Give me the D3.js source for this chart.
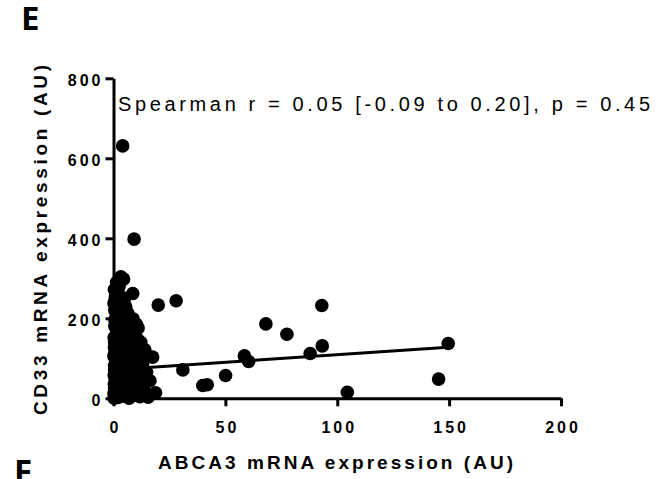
<!DOCTYPE html>
<html>
<head>
<meta charset="utf-8">
<script src="https://cdn.jsdelivr.net/npm/d3@7"></script>
<style>
  body { margin: 0; background: #fff; }
  svg { display: block; }
</style>
</head>
<body>
<svg id="chart" width="670" height="479"></svg>
<script>
// ABCA3 (x) vs CD33 (y) mRNA expression
const abca3 = [
  4.1, 9.2, 20, 28, 93.1, 68.1, 77.5, 93.3, 87.9, 149.6, 145.3, 104.5, 58.5, 60.4, 50.1, 39.9, 41.9, 31,
  3.3, 4.5, 1.4, 2.5, 8.6, 0.8, 3.0, 5.5, 2.0, 1.2, 4.0, 6.5, 8.8, 7.5, 11.0, 10.2, 0.6, 2.5, 5.0, 3.8,
  6.0, 1.5, 9.0, 10.5, 4.2, 2.2, 7.0, 0.5, 5.5, 3.0, 8.0, 1.0, 14.0, 12.0, 6.5, 17.5, 4.5, 2.0, 9.5, 0.8,
  6.0, 11.5, 3.5, 8.5, 13.0, 1.5, 5.0, 10.0, 0.5, 7.0, 3.0, 12.5, 2.0, 9.0, 5.5, 16.3, 14.5, 0.8, 4.0, 11.0,
  7.5, 2.5, 13.5, 0.5, 6.0, 9.5, 18.8, 13.3, 3.5, 1.0, 8.0, 11.8, 5.0, 2.0, 15.5, 0.3, 7.0, 4.0, 10.5, 3.0,
  1.5, 6.5, 8.0, 2.5, 4.5, 0.5, 3.5, 1.8, 5.0, 2.8, 6.8, 12.0, 9.0, 10.0, 7.5, 3.5, 1.0, 2.0, 0.6, 5.0,
  0.2, 0.4, 0.3, 0.5, 0.2, 0.4, 0.3, 0.6, 0.2, 0.4, 2.2, 3.6, 4.8, 6.2, 7.8, 9.4, 2.6, 4.2, 5.8, 7.2,
  8.8, 10.4, 3.2, 5.2, 6.6, 8.2, 9.8, 1.8, 3.8, 5.6, 7.4, 9.2, 11.2, 2.4, 4.6, 6.4, 8.4, 10.8, 12.6, 14.8,
  3.4, 5.8, 7.6, 1.6, 4.4, 6.8, 9.6, 12.2, 2.8, 5.4
];
const cd33 = [
  631, 398, 233, 244, 232, 186, 160, 131, 112, 137, 48, 15, 106, 92, 57, 32, 34, 71,
  304, 298, 290, 280, 262, 254, 242, 228, 232, 215, 210, 212, 198, 190, 176, 185, 180, 190, 195, 175,
  170, 165, 160, 150, 155, 148, 145, 140, 135, 128, 130, 122, 121, 118, 118, 103, 110, 105, 108, 98,
  95, 95, 90, 88, 85, 82, 78, 75, 70, 68, 65, 62, 55, 55, 50, 44, 52, 45, 40, 40,
  35, 30, 28, 25, 22, 20, 14, 15, 15, 10, 8, 4, 5, 2, 3, 0, 0, 18, 12, 48,
  60, 58, 45, 75, 85, 112, 100, 135, 145, 160, 100, 105, 120, 135, 155, 200, 200, 268, 220, 250,
  12, 35, 58, 82, 105, 128, 152, 196, 238, 272, 10, 25, 12, 30, 18, 28, 40, 52, 38, 50,
  42, 55, 68, 72, 62, 80, 70, 92, 110, 88, 98, 82, 75, 125, 120, 112, 142, 130, 95, 65,
  138, 165, 172, 182, 185, 158, 150, 140, 205, 215
];

// linear fit drawn in the figure
const fitIntercept = 71.3;
const fitSlope = 0.376;
const fitRange = [0.3, 149.6];

const xTicks = [0, 50, 100, 150, 200];
const yTicks = [0, 200, 400, 600, 800];

const points = abca3.map((x, i) => ({ x: x, y: cd33[i] }));

const svg = d3.select('#chart');
const margin = { left: 113.5, top: 78.3 };
const width = 447.5, height = 320;

const x = d3.scaleLinear().domain([0, 200]).range([0, width]);
const y = d3.scaleLinear().domain([0, 800]).range([height, 0]);

const g = svg.append('g')
  .attr('transform', `translate(${margin.left},${margin.top})`);

const tickFont = "'Liberation Sans', Arial, sans-serif";

// axes
const xAxis = g.append('g')
  .attr('transform', `translate(0,${height})`)
  .call(d3.axisBottom(x).tickValues(xTicks).tickSize(8).tickSizeOuter(0));
const yAxis = g.append('g')
  .call(d3.axisLeft(y).tickValues(yTicks).tickSize(8).tickSizeOuter(0));

[xAxis, yAxis].forEach(a => {
  a.select('.domain').attr('stroke', '#000').attr('stroke-width', 3);
  a.selectAll('.tick line').attr('stroke', '#000').attr('stroke-width', 3);
  a.selectAll('.tick text')
    .attr('fill', '#000')
    .style('font-family', tickFont)
    .style('font-weight', 'bold')
    .style('font-size', '16px')
    .style('letter-spacing', '3px');
});
xAxis.selectAll('.tick text').attr('y', 35).attr('dy', null).attr('dx', '1.5px');
yAxis.selectAll('.tick text').attr('x', -13).attr('dx', '3px').attr('dy', '0.45em');

// dots
g.append('g')
  .selectAll('circle')
  .data(points)
  .enter()
    .append('circle')
    .attr('cx', d => x(d.x))
    .attr('cy', d => y(d.y))
    .attr('r', 6.8)
    .attr('fill', '#000');

// regression line
g.append('line')
  .attr('x1', x(fitRange[0]))
  .attr('y1', y(fitIntercept + fitSlope * fitRange[0]))
  .attr('x2', x(fitRange[1]))
  .attr('y2', y(fitIntercept + fitSlope * fitRange[1]))
  .attr('stroke', '#000')
  .attr('stroke-width', 3);

// axis titles
svg.append('text')
  .attr('x', 158)
  .attr('y', 469)
  .attr('textLength', 355)
  .attr('lengthAdjust', 'spacing')
  .style('font-family', tickFont)
  .style('font-weight', 'bold')
  .style('font-size', '19px')
  .text('ABCA3 mRNA expression (AU)');

svg.append('text')
  .attr('transform', 'translate(47,415) rotate(-90)')
  .attr('textLength', 350)
  .attr('lengthAdjust', 'spacing')
  .style('font-family', tickFont)
  .style('font-weight', 'bold')
  .style('font-size', '19px')
  .text('CD33 mRNA expression (AU)');

// statistics annotation
svg.append('text')
  .attr('x', 118)
  .attr('y', 111)
  .attr('textLength', 532)
  .attr('lengthAdjust', 'spacing')
  .style('font-family', tickFont)
  .style('font-size', '20px')
  .text('Spearman r = 0.05 [-0.09 to 0.20], p = 0.45');

// panel letters
const panelFont = "'Open Sans', 'Noto Sans', sans-serif";
svg.append('text')
  .attr('x', 21).attr('y', 30)
  .style('font-family', panelFont).style('font-weight', 'bold').style('font-size', '33px')
  .text('E');
svg.append('text')
  .attr('x', 14).attr('y', 483)
  .style('font-family', panelFont).style('font-weight', 'bold').style('font-size', '33px')
  .text('F');
</script>
</body>
</html>
